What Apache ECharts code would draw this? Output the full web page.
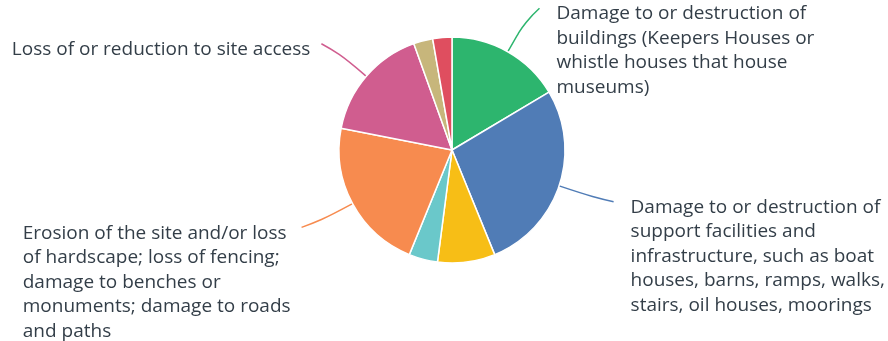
<!DOCTYPE html>
<html>
<head>
<meta charset="utf-8">
<script src="https://cdn.jsdelivr.net/npm/echarts@6/dist/echarts.min.js"></script>
<style>
  html, body { margin: 0; padding: 0; background: #ffffff; }
  #chart { width: 888px; height: 341px; }
</style>
</head>
<body>
<div id="chart"></div>
<script>
// Categories, clockwise from 12 o'clock; each label is kept as its wrapped lines.
const categories = [
  ['Damage to or destruction of', 'buildings (Keepers Houses or', 'whistle houses that house', 'museums)'],
  ['Damage to or destruction of', 'support facilities and', 'infrastructure, such as boat', 'houses, barns, ramps, walks,', 'stairs, oil houses, moorings'],
  ['Other 1'],
  ['Other 2'],
  ['Erosion of the site and/or loss', 'of hardscape; loss of fencing;', 'damage to benches or', 'monuments; damage to roads', 'and paths'],
  ['Loss of or reduction to site access'],
  ['Other 3'],
  ['Other 4']
];
const counts = [12, 20, 6, 3, 16, 12, 2, 2];
const showLabel = [true, true, false, false, true, true, false, false];
const colors = ['#2db56e', '#507cb6', '#f7be16', '#6ac8ca', '#f78b4f', '#d05d8f', '#c7b67b', '#df4e5f'];

const chart = echarts.init(document.getElementById('chart'), null, { renderer: 'canvas' });

const pieData = categories.map((lines, i) => ({
  name: lines.join(' '),
  value: counts[i],
  itemStyle: { color: colors[i] },
  label: { show: showLabel[i], formatter: lines.join('\n') },
  labelLine: { show: showLabel[i] }
}));

chart.setOption({
  animation: false,
  backgroundColor: '#ffffff',
  series: [{
    type: 'pie',
    center: [452, 150],
    radius: 113,
    startAngle: 90,
    clockwise: true,
    avoidLabelOverlap: false,
    data: pieData,
    itemStyle: { borderColor: '#ffffff', borderWidth: 1.5 },
    emphasis: { scale: false },
    label: {
      position: 'outside',
      color: '#333e48',
      fontFamily: 'Open Sans',
      fontSize: 19,
      lineHeight: 24.5
    },
    labelLine: {
      length: 50,
      length2: 7,
      smooth: 0.5,
      lineStyle: { width: 1.5 }
    },
    // Hang each text block from the end of its leader line, lines left-aligned,
    // and pull the bend of the leader inward so it reads as a gentle curve.
    labelLayout: function (p) {
      const pts = p.labelLinePoints;
      if (!pts) { return {}; }
      const start = pts[0];
      const end = pts[pts.length - 1];
      const bend = [
        start[0] + (pts[1][0] - start[0]) * 0.7,
        start[1] + (pts[1][1] - start[1]) * 0.7
      ];
      const onRight = end[0] >= start[0];
      return {
        x: onRight ? end[0] + 17 : end[0] - 11 - p.labelRect.width,
        y: end[1] - 6.5,
        align: 'left',
        verticalAlign: 'top',
        labelLinePoints: [start, bend, end]
      };
    }
  }]
});
</script>
</body>
</html>
